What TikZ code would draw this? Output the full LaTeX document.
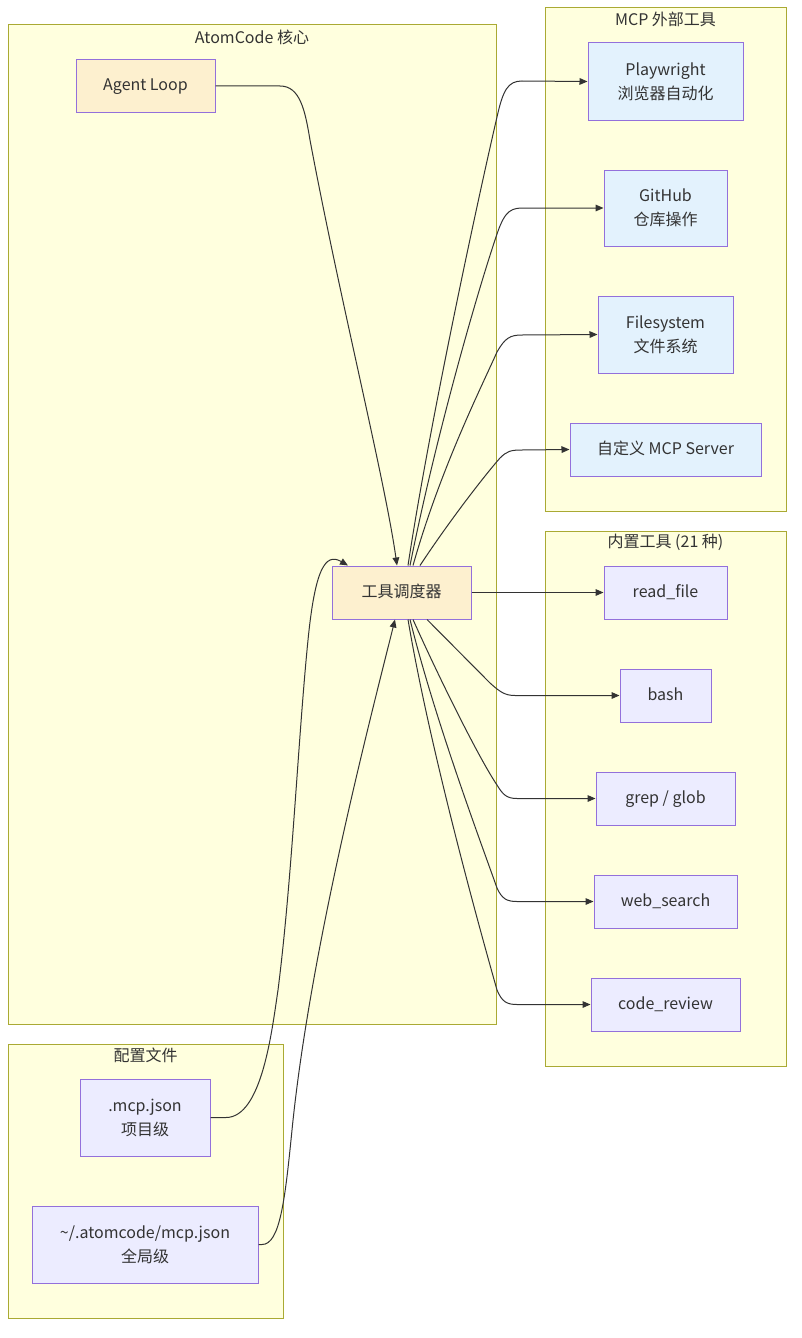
\documentclass[tikz,border=0pt]{standalone}
\usepackage{fontspec}
\setmainfont{Noto Sans CJK SC}
\usetikzlibrary{arrows.meta}
\definecolor{clfill}{HTML}{FFFFDE}
\definecolor{clline}{HTML}{AAAA33}
\definecolor{nline}{HTML}{9370DB}
\definecolor{orfill}{HTML}{FDF0CF}
\definecolor{blfill}{HTML}{E3F2FD}
\definecolor{pufill}{HTML}{ECECFF}
\definecolor{ink}{HTML}{333333}
\tikzset{
  wh/.style 2 args={minimum width=#1*0.75pt, minimum height=#2*0.75pt},
  nd/.style={draw=nline, line width=0.75pt, inner sep=0pt, align=center, text=ink,
    font=\fontsize{12}{18}\selectfont},
  one/.style={text height=0.8em, text depth=0.1em},
  ornd/.style={nd, fill=orfill},
  blnd/.style={nd, fill=blfill},
  pund/.style={nd, fill=pufill},
  cluster/.style={draw=clline, fill=clfill, line width=0.75pt},
  ctitle/.style={text=ink, inner sep=0pt, font=\fontsize{12}{14}\selectfont},
  edge/.style={draw=ink, line width=0.75pt, -{Triangle[length=6pt,width=5pt]}},
}
\begin{document}
\begin{tikzpicture}[x=0.75pt,y=-0.75pt]
\useasboundingbox (0,0) rectangle (802,1338);
% clusters
\draw[cluster] (8,25) rectangle (496,1024);
\draw[cluster] (545,8) rectangle (786,511);
\draw[cluster] (545,531) rectangle (786,1066);
\draw[cluster] (8,1044) rectangle (283,1318);
\node[ctitle] (t1) at (252,37) {AtomCode 核心};
\node[ctitle] (t2) at (665.5,19) {MCP 外部工具};
\node[ctitle] (t3) at (665.5,542) {内置工具 (21 种)};
\node[ctitle] (t4) at (145.5,1055) {配置文件};
% nodes
\node[ornd, one, wh={139}{52}] (agent) at (145.5,86) {Agent Loop};
\node[ornd, one, wh={139}{53}] (disp) at (401.5,592.5) {工具调度器};
\node[blnd, wh={155}{77}] (pw) at (665.5,81.5) {Playwright\\浏览器自动化};
\node[blnd, wh={123}{76}] (gh) at (665.5,208) {GitHub\\仓库操作};
\node[blnd, wh={135}{77}] (fs) at (665.5,334.5) {Filesystem\\文件系统};
\node[blnd, one, wh={191}{53}] (cu) at (665.5,449.5) {自定义 MCP Server};
\node[pund, one, wh={123}{53}] (rf) at (665.5,592.5) {read\_file};
\node[pund, one, wh={91}{53}] (bash) at (665.5,695.5) {bash};
\node[pund, one, wh={139}{53}] (grep) at (665.5,798.5) {grep / glob};
\node[pund, one, wh={143}{53}] (web) at (665.5,901.5) {web\_search};
\node[pund, one, wh={149}{53}] (code) at (665.5,1004.5) {code\_review};
\node[pund, wh={130}{77}] (mcp) at (145,1117.5) {.mcp.json\\项目级};
\node[pund, wh={226}{77}] (glob) at (145,1244.5) {\char`\~/.atomcode/mcp.json\\全局级};
% edges
\draw[edge] (agent.east) -- (280,86) .. controls (300,86) and (305,110) .. (310,140)
  .. controls (340,300) and (385,480) .. ([xshift=-3.375pt]disp.north);
\draw[edge] (disp.north) ++(6.5,0) .. controls (430,420) and (480,190) .. (497,117)
  .. controls (503,90) and (508,81) .. (522,81) -- (pw.west);
\draw[edge] (disp.north) ++(8.5,0) .. controls (435,440) and (475,300) .. (495,240)
  .. controls (503,215) and (508,208) .. (522,208) -- (gh.west);
\draw[edge] (disp.north) ++(11.5,0) .. controls (440,470) and (480,390) .. (497,352)
  .. controls (505,338) and (510,335) .. (522,335) -- (fs.west);
\draw[edge] (disp.north) ++(18.5,0) .. controls (450,520) and (485,475) .. (500,458)
  .. controls (507,451) and (511,450) .. (522,450) -- (cu.west);
\draw[edge] (disp.east) -- (rf.west);
\draw[edge] (disp.south) ++(25.5,0) -- (490,683) .. controls (500,692) and (505,695.5) .. (515,695.5) -- (bash.west);
\draw[edge] (disp.south) ++(11.5,0) .. controls (440,680) and (480,760) .. (497,785)
  .. controls (503,795) and (507,798.5) .. (517,798.5) -- (grep.west);
\draw[edge] (disp.south) ++(8.5,0) .. controls (435,720) and (480,840) .. (497,888)
  .. controls (502,899) and (507,901.5) .. (517,901.5) -- (web.west);
\draw[edge] (disp.south) ++(6.5,0) .. controls (430,750) and (480,930) .. (497,990)
  .. controls (502,1002) and (507,1004.5) .. (517,1004.5) -- (code.west);
\draw[edge] (mcp.east) -- (226,1117.5) .. controls (262,1117.5) and (272,1030) .. (278,990)
  .. controls (292,880) and (298,740) .. (308,640) .. controls (315,570) and (325,552) .. ([xshift=-40.125pt]disp.north);
\draw[edge] (glob.east) -- (262,1244.5) .. controls (280,1244.5) and (285,1200) .. (292,1130)
  .. controls (310,950) and (370,720) .. ([xshift=-4.875pt]disp.south);
\end{tikzpicture}
\end{document}
